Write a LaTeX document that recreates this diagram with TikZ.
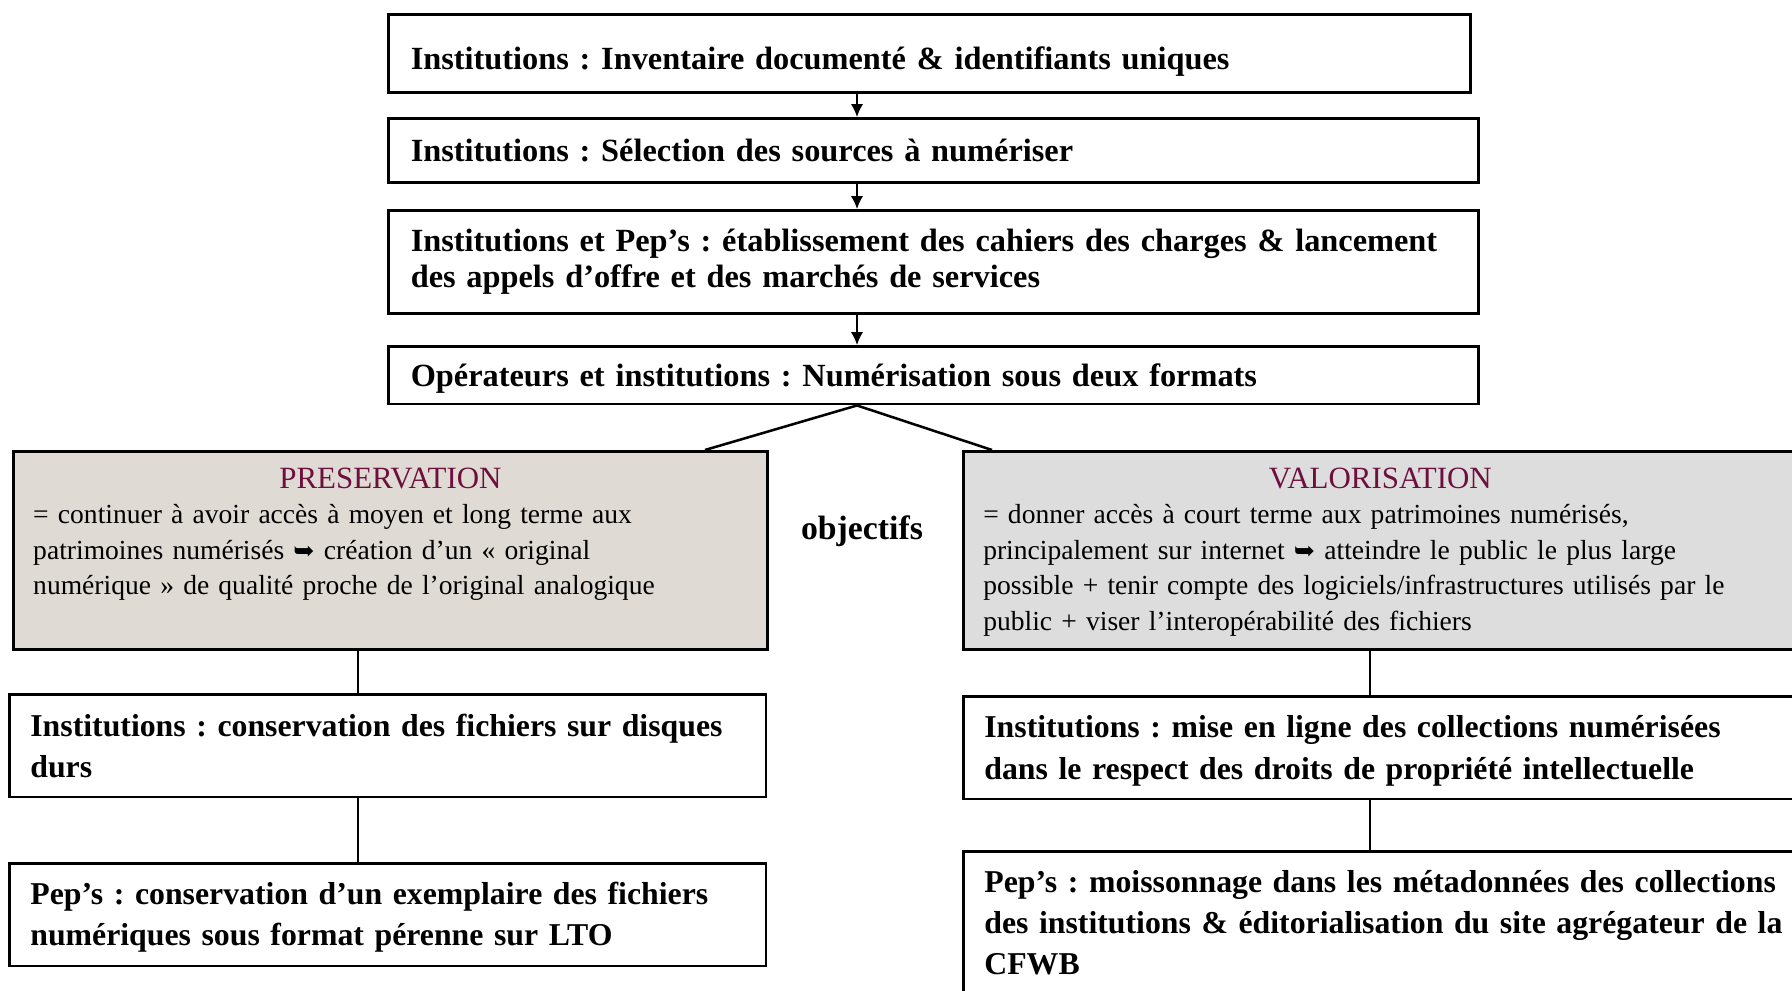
\documentclass[tikz,border=0pt]{standalone}
\usepackage{fontspec}
\setmainfont{Liberation Serif}
\newfontfamily\symfont{DejaVu Sans}
\usepackage{tikz}
\usetikzlibrary{calc}
\usetikzlibrary{arrows.meta}
\definecolor{wine}{RGB}{110, 16, 62}
\definecolor{linen}{RGB}{224, 218, 212}
\definecolor{silver}{RGB}{221, 221, 221}
\frenchspacing

\tikzset{
    stepbox/.style={draw, line width=0.9pt, anchor=north west, inner xsep=8pt, inner ysep=0pt,
                    align=left, font=\fontsize{11.5}{12.8}\selectfont\bfseries},
    goalbox/.style={draw, line width=0.9pt, anchor=north west, inner xsep=7.1pt, inner ysep=0pt,
                    align=left, font=\fontsize{9.8}{12.6}\selectfont, text height=13.2pt, text depth=57.3pt},
    taskbox/.style={draw, line width=0.9pt, anchor=north west, inner xsep=7.5pt, inner ysep=0pt,
                    align=left, font=\fontsize{11.3}{14.8}\selectfont\bfseries},
    flow/.style={line width=0.6pt, -{Latex[length=4.6pt,width=4.4pt]}},
    link/.style={line width=0.9pt},
}

\begin{document}
\begin{tikzpicture}[x=0.0125cm, y=-0.0125cm]
            % Frame in pixels of the reference
            \useasboundingbox (0,0) rectangle (1792,991);
            \coordinate (spine)    at ( 857,0);
            \coordinate (leftcol)  at ( 358,0);
            \coordinate (rightcol) at (1370,0);
            \coordinate (presjoin) at ( 705,450);
            \coordinate (valjoin)  at ( 992,450);
            % Common steps
            \node[stepbox, text width=368.8pt, text height=19.5pt, text depth=8.3pt] (inventaire) at (387,13)
                 {Institutions : Inventaire documenté \& identifiants uniques};
            \node[stepbox, text width=371.7pt, text height=15.2pt, text depth=7.6pt] (selection) at (387,117)
                 {Institutions : Sélection des sources à numériser};
            \node[stepbox, text width=371.7pt, text height=14.6pt, text depth=22.1pt] (cahiers) at (387,209)
                 {Institutions et Pep’s : établissement des cahiers des charges \& lancement\\
                  des appels d’offre et des marchés de services};
            \node[stepbox, text width=371.7pt, text height=14.4pt, text depth=6.2pt] (numerisation) at (387,345)
                 {Opérateurs et institutions : Numérisation sous deux formats};
            % Objectives
            \node[goalbox, fill=linen, text width=254pt] (preservation) at (12,450)
                 {{\centering\fontsize{11}{12}\selectfont\color{wine}PRESERVATION\par}
                  = continuer à avoir accès à moyen et long terme aux\\
                  patrimoines numérisés {\symfont\small ➥} création d’un « original\\
                  numérique » de qualité proche de l’original analogique};
            \node[goalbox, fill=silver, text width=282.4pt] (valorisation) at (962,450)
                 {{\centering\fontsize{11}{12}\selectfont\color{wine}VALORISATION\par}
                  = donner accès à court terme aux patrimoines numérisés,\\
                  principalement sur internet {\symfont\small ➥} atteindre le public le plus large\\
                  possible + tenir compte des logiciels/infrastructures utilisés par le\\
                  public + viser l’interopérabilité des fichiers};
            \node[anchor=base, font=\fontsize{12}{14}\selectfont\bfseries] (objectifs) at (862,540) {objectifs};
            % Preservation branch
            \node[taskbox, text width=254pt, text height=14.9pt, text depth=21.7pt] (conservation) at (8,693)
                 {Institutions : conservation des fichiers sur disques\\durs};
            \node[taskbox, text width=254pt, text height=14.6pt, text depth=22.0pt] (exemplaire) at (8,862)
                 {Pep’s : conservation d’un exemplaire des fichiers\\numériques sous format pérenne sur LTO};
            % Valorisation branch
            \node[taskbox, text width=300pt, text height=14.7pt, text depth=21.9pt] (miseenligne) at (962,695)
                 {Institutions : mise en ligne des collections numérisées\\dans le respect des droits de propriété intellectuelle};
            \node[taskbox, text width=300pt, text height=14.6pt, text depth=57pt,
                  font=\fontsize{11.3}{14.6}\selectfont\bfseries] (moissonnage) at (962,850)
                 {Pep’s : moissonnage dans les métadonnées des collections\\
                  des institutions \& éditorialisation du site agrégateur de la\\CFWB};
            % Connectors
            \draw[flow] (inventaire.south -| spine)   -- (selection.north -| spine);
            \draw[flow] (selection.south -| spine)    -- (cahiers.north -| spine);
            \draw[flow] (cahiers.south -| spine)      -- (numerisation.north -| spine);
            \draw[link] (presjoin) -- (numerisation.south -| spine) -- (valjoin);
            \draw[link] (preservation.south -| leftcol) -- (conservation.north -| leftcol);
            \draw[link] (conservation.south -| leftcol) -- (exemplaire.north -| leftcol);
            \draw[link] (valorisation.south -| rightcol) -- (miseenligne.north -| rightcol);
            \draw[link] (miseenligne.south -| rightcol)  -- (moissonnage.north -| rightcol);
        \end{tikzpicture}
\end{document}
